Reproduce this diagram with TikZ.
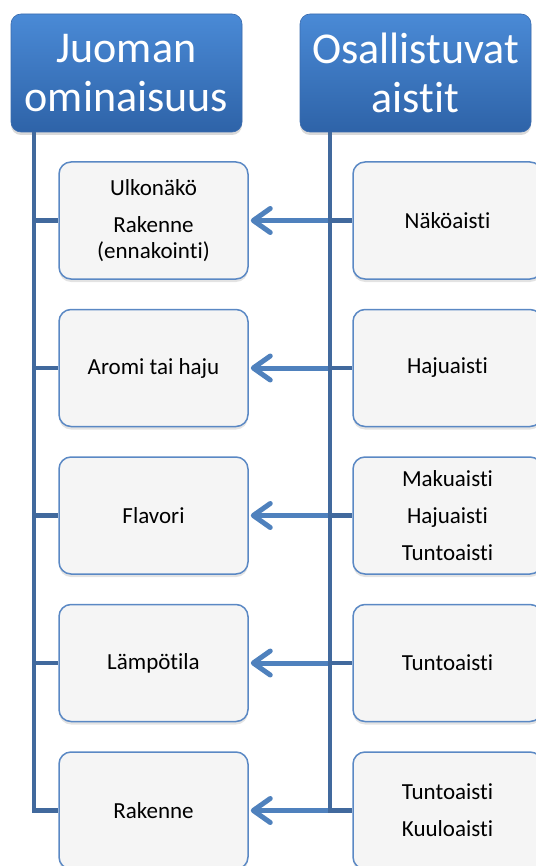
\documentclass[tikz,border=0pt]{standalone}
\usepackage{fontspec}
\setmainfont[Ligatures=NoCommon]{Carlito}
\usetikzlibrary{arrows.meta,shadows}
\definecolor{treeblue}{HTML}{41699D}
\definecolor{arrblue}{HTML}{4F81BD}
\definecolor{boxline}{HTML}{5A88C4}
\definecolor{boxfill}{HTML}{F5F5F5}
\definecolor{hdrtop}{HTML}{4A8AD6}
\definecolor{hdrbot}{HTML}{2E63A8}
\definecolor{hdrline}{HTML}{3A6BAE}
\begin{document}
\begin{tikzpicture}[x=1pt,y=-1pt,
  hdr/.style={rounded corners=10pt, minimum width=231pt, minimum height=118pt, inner sep=0pt,
    top color=hdrtop, bottom color=hdrbot, draw=hdrline, line width=0.6pt, text=white,
    font=\fontsize{44}{49}\selectfont, align=center,
    drop shadow={shadow xshift=0pt, shadow yshift=-3pt, opacity=0.3}},
  itembox/.style={rounded corners=12pt, minimum width=189pt, minimum height=117pt, inner sep=0pt,
    fill=boxfill, draw=boxline, line width=1.5pt, font=\fontsize{23}{26}\selectfont, align=center,
    drop shadow={shadow xshift=0pt, shadow yshift=-3pt, opacity=0.22}},
  tree/.style={draw=treeblue, line width=4.8pt},
  arr/.style={draw=arrblue, line width=5pt, -{Straight Barb[length=17pt,width=24pt,round]}}]
\useasboundingbox (0,0) rectangle (535,866);
% headers
\node[hdr] (h1) at (126.5,73) {Juoman\\ominaisuus};
\node[hdr] (h2) at (415.5,73) {Osallistuvat\\aistit};
% tree anchor coordinates
\coordinate (t1) at (34,132);
\coordinate (t2) at (330,132);
% boxes
\node[itembox] (l1) at (153.5,220.5) {Ulkonäkö\\[11pt]Rakenne\\(ennakointi)};
\node[itembox] (l2) at (153.5,368) {Aromi tai haju};
\node[itembox] (l3) at (153.5,515.5) {Flavori};
\node[itembox] (l4) at (153.5,663) {Lämpötila};
\node[itembox] (l5) at (153.5,810.5) {Rakenne};
\node[itembox] (r1) at (447.5,220.5) {Näköaisti};
\node[itembox] (r2) at (447.5,368) {Hajuaisti};
\node[itembox] (r3) at (447.5,515.5) {Makuaisti\\[11pt]Hajuaisti\\[11pt]Tuntoaisti};
\node[itembox] (r4) at (447.5,663) {Tuntoaisti};
\node[itembox] (r5) at (447.5,810.5) {Tuntoaisti\\[11pt]Kuuloaisti};
% arrows
\foreach \i in {1,...,5}{
  \draw[arr] (t2 |- r\i.west) -- ([xshift=2pt]l\i.east);
}
% tree lines
\draw[tree] (t1) |- (l5.west);
\draw[tree] (t2) |- (r5.west);
\foreach \i in {1,...,4}{
  \draw[tree] (t1 |- l\i.west) -- (l\i.west);
  \draw[tree] (t2 |- r\i.west) -- (r\i.west);
}
\end{tikzpicture}
\end{document}
